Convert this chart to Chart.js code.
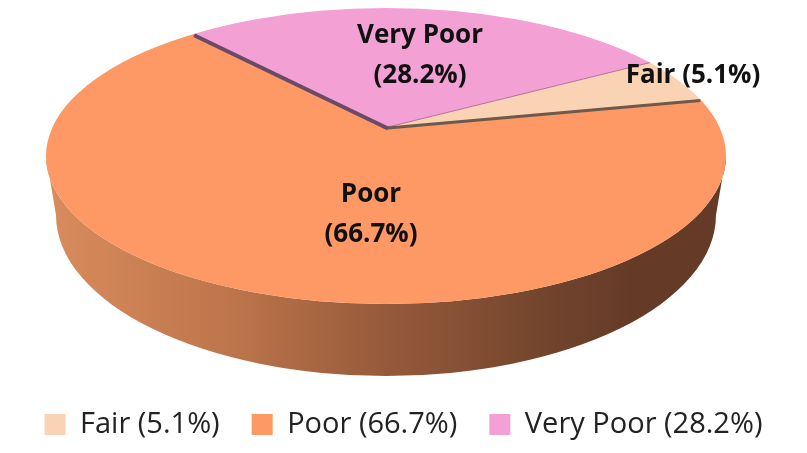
<!DOCTYPE html>
<html>
<head>
<meta charset="utf-8">
<style>html,body{margin:0;padding:0;background:#fff}canvas{display:block}</style>
<script src="https://cdn.jsdelivr.net/npm/chart.js@4"></script>
</head>
<body>
<canvas id="c" width="807" height="453"></canvas>
<script>
const categories = ["Fair (5.1%)", "Poor (66.7%)", "Very Poor (28.2%)"];
const shares = [5.1, 66.7, 28.2];
const sliceColors = ["#FAD3B4", "#FE9865", "#F3A0D5"];
const edgeColors = ["#6E5A4C", null, "#6B4A68"];
const sliceText = [["Fair (5.1%)"], ["Poor", "(66.7%)"], ["Very Poor", "(28.2%)"]];
const textAnchors = [[693, 76], [371, 215], [420, 56]];

const FONT = '"Open Sans", Lato, sans-serif';
const top3d = {cx: 386, cy: 156, rx: 340, ry: 148};
const base3d = {cx: 386, cy: 215, rx: 330, ry: 161};
const apex = {x: 388, y: 127};
const squash = 2.35;

const pie3d = {
  id: 'pie3d',
  beforeDatasetsDraw(chart) {
    const ctx = chart.ctx, arc = chart.getDatasetMeta(0).data[0];
    // side wall
    const g = ctx.createLinearGradient(top3d.cx - top3d.rx, 0, top3d.cx + top3d.rx, 0);
    g.addColorStop(0, '#D98C5D');
    g.addColorStop(0.27, '#BE754B');
    g.addColorStop(0.5, '#965A3B');
    g.addColorStop(0.75, '#70432C');
    g.addColorStop(0.86, '#653B28');
    g.addColorStop(1, '#653B28');
    ctx.save();
    ctx.beginPath();
    ctx.ellipse(top3d.cx, top3d.cy, top3d.rx, top3d.ry, 0, 0, Math.PI);
    ctx.lineTo(base3d.cx - base3d.rx, base3d.cy);
    ctx.ellipse(base3d.cx, base3d.cy, base3d.rx, base3d.ry, 0, Math.PI, 0, true);
    ctx.closePath();
    ctx.fillStyle = g;
    ctx.fill();
    ctx.restore();
    // top face: library arcs seen in perspective, cut by the rim
    ctx.save();
    ctx.beginPath();
    ctx.ellipse(top3d.cx, top3d.cy, top3d.rx, top3d.ry, 0, 0, Math.PI * 2);
    ctx.clip();
    const S = 440 / arc.outerRadius;
    ctx.translate(apex.x, apex.y);
    ctx.scale(S, S / squash);
    ctx.translate(-arc.x, -arc.y);
  },
  afterDatasetsDraw(chart) {
    const ctx = chart.ctx, arcs = chart.getDatasetMeta(0).data;
    ctx.restore();
    // dark cut edges along the library's slice angles
    const rim = a => {
      const dx = Math.cos(a), dy = Math.sin(a) / squash;
      const A = dx * dx / (top3d.rx * top3d.rx) + dy * dy / (top3d.ry * top3d.ry);
      const ox = apex.x - top3d.cx, oy = apex.y - top3d.cy;
      const B = 2 * (ox * dx / (top3d.rx * top3d.rx) + oy * dy / (top3d.ry * top3d.ry));
      const C = ox * ox / (top3d.rx * top3d.rx) + oy * oy / (top3d.ry * top3d.ry) - 1;
      const t = (-B + Math.sqrt(B * B - 4 * A * C)) / (2 * A);
      return {x: apex.x + dx * t, y: apex.y + dy * t};
    };
    const edge = (a, color, w, off) => {
      const p = rim(a);
      ctx.save();
      ctx.strokeStyle = color;
      ctx.lineWidth = w;
      ctx.beginPath();
      ctx.moveTo(apex.x, apex.y + off);
      ctx.lineTo(p.x, p.y + off);
      ctx.stroke();
      ctx.restore();
    };
    edge(arcs[0].startAngle, '#B5709A', 1, 0);
    edge(arcs[0].endAngle, edgeColors[0], 3, 1);
    edge(arcs[2].startAngle, edgeColors[2], 4, 1.5);
    // slice labels
    ctx.save();
    ctx.fillStyle = '#111';
    ctx.font = 'bold 26px ' + FONT;
    ctx.textAlign = 'center';
    ctx.textBaseline = 'middle';
    sliceText.forEach((lines, i) => {
      lines.forEach((t, j) => ctx.fillText(t, textAnchors[i][0], textAnchors[i][1] + j * 40 - (lines.length - 1) * 20));
    });
    ctx.restore();
  }
};

new Chart(document.getElementById('c'), {
  type: 'pie',
  data: {
    labels: categories,
    datasets: [{data: shares, backgroundColor: sliceColors, borderWidth: 0, clip: false}]
  },
  options: {
    responsive: false,
    animation: false,
    rotation: 60,
    layout: {padding: {bottom: 4}},
    plugins: {
      tooltip: {enabled: false},
      title: {display: false},
      legend: {
        position: 'bottom',
        labels: {
          boxWidth: 21, boxHeight: 21, padding: 32,
          color: '#222',
          font: {family: FONT, size: 29}
        }
      }
    }
  },
  plugins: [pie3d]
});
</script>
</body>
</html>
